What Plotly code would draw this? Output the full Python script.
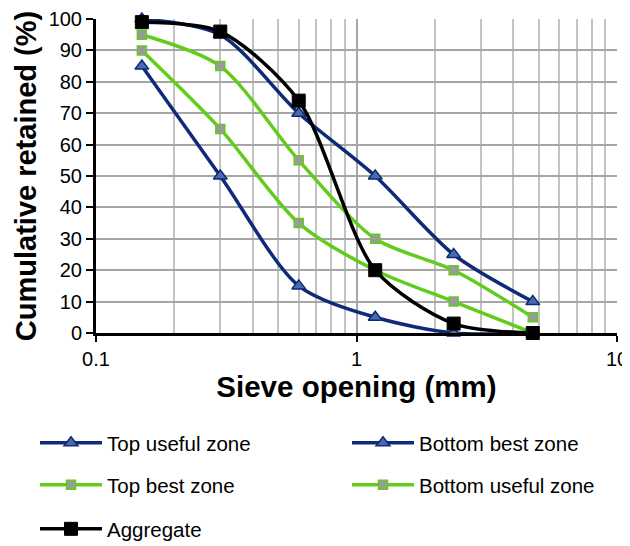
import plotly.graph_objects as go

sieve = [0.15, 0.3, 0.6, 1.18, 2.36, 4.75]
top_useful = [100, 95, 70, 50, 25, 10]
bottom_best = [85, 50, 15, 5, 0, 0]
top_best = [95, 85, 55, 30, 20, 5]
bottom_useful = [90, 65, 35, 20, 10, 0]
aggregate = [99, 96, 74, 20, 3, 0]

x_ticks = [0.1, 1, 10]
x_ticklabels = ["0.1", "1", "10"]

NAVY = "#0e2a78"
TRI_FILL = "#4a6aa8"
GREEN = "#62cc1c"
SQ_FILL = "#9a9a9a"
FONT = "Liberation Sans, Arial, sans-serif"

fig = go.Figure()

def add(name, y, color, symbol, fill, size, lw, legend):
    fig.add_trace(go.Scatter(
        x=sieve, y=y, name=name, mode="lines+markers",
        line=dict(color=color, width=3.5, shape="spline", smoothing=0.8),
        marker=dict(symbol=symbol, size=size, color=fill,
                    line=dict(color=color, width=lw)),
        cliponaxis=False, legend=legend, showlegend=True,
    ))

add("Top useful zone", top_useful, NAVY, "triangle-up", TRI_FILL, 12, 1.5, "legend")
add("Bottom best zone", bottom_best, NAVY, "triangle-up", TRI_FILL, 12, 1.5, "legend2")
add("Top best zone", top_best, GREEN, "square", SQ_FILL, 9, 1.5, "legend3")
add("Bottom useful zone", bottom_useful, GREEN, "square", SQ_FILL, 9, 1.5, "legend4")
add("Aggregate", aggregate, "#000000", "square", "#000000", 13, 1, "legend5")

HGRID = "#a6a6a6"
VGRID = "#c2c2c2"
leg_common = dict(orientation="v", xanchor="left", yanchor="middle",
                  font=dict(family=FONT, size=20.5, color="#000"),
                  itemwidth=62, bgcolor="rgba(0,0,0,0)", visible=True)

# page body has an 8px margin: figure coordinates = window coordinates - 8
OFF = 8
W, H = 630 - OFF, 546 - OFF
X0, X1, Y0, Y1 = 96, 617, 19, 333  # plot area in window pixels
PW, PH = float(X1 - X0), float(Y1 - Y0)
def lx(px):
    return (px - X0) / PW
def ly(py):
    return (Y1 - py) / PH

fig.update_layout(
    width=W, height=H,
    margin=dict(l=X0 - OFF, r=W - (X1 - OFF), t=Y0 - OFF, b=H - (Y1 - OFF),
                autoexpand=False),
    plot_bgcolor="white", paper_bgcolor="white",
    font=dict(family=FONT, color="#000"),
    showlegend=True,
    legend=dict(x=lx(35), y=ly(443), **leg_common),
    legend2=dict(x=lx(347), y=ly(443), **leg_common),
    legend3=dict(x=lx(35), y=ly(485), **leg_common),
    legend4=dict(x=lx(347), y=ly(485), **leg_common),
    legend5=dict(x=lx(35), y=ly(529), **leg_common),
    xaxis=dict(
        type="log", range=[-1, 1],
        tickvals=x_ticks, ticktext=x_ticklabels,
        tickfont=dict(size=20), ticks="outside", ticklen=6, tickwidth=2,
        tickcolor="#000", ticklabelstandoff=0,
        showline=True, linecolor="#000", linewidth=3,
        showgrid=True, gridcolor=HGRID, gridwidth=1.5,
        minor=dict(showgrid=True, gridcolor=VGRID, gridwidth=1.5, dtick="D1"),
        zeroline=False,
        title=dict(text="<b>Sieve opening (mm)</b>", font=dict(size=29.5), standoff=2),
    ),
    yaxis=dict(
        range=[0, 100], dtick=10,
        tickfont=dict(size=20), ticks="outside", ticklen=7, tickwidth=2,
        tickcolor="#000",
        showline=True, linecolor="#000", linewidth=3,
        showgrid=True, gridcolor=HGRID, gridwidth=1.5,
        zeroline=False,
        title=dict(text="<b>Cumulative retained (%)</b>", font=dict(size=29), standoff=4),
    ),
)

fig.write_html("out.html")
